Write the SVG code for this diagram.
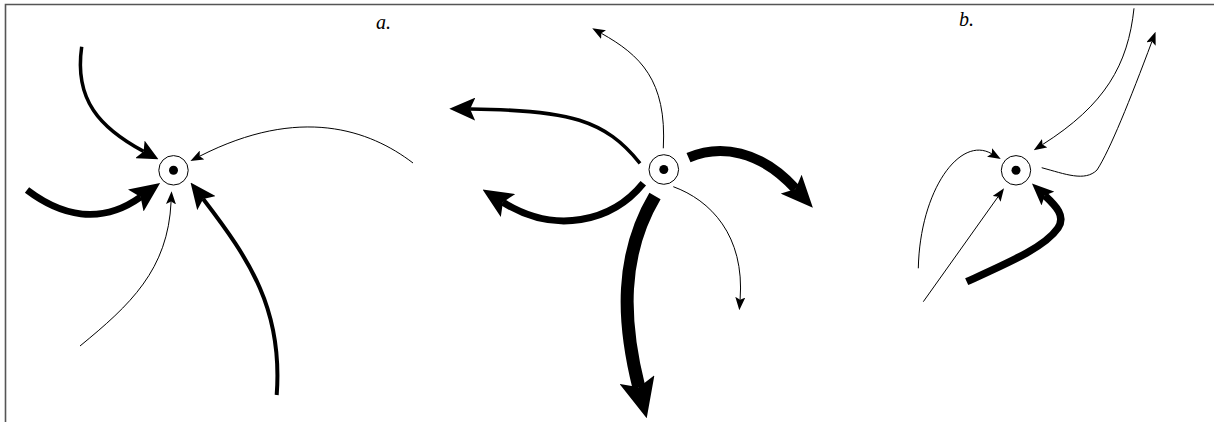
<svg xmlns="http://www.w3.org/2000/svg" width="1214" height="422" viewBox="0 0 1214 422">
<style>
.frame{stroke:#555;stroke-width:1.6;fill:none}
.ring{fill:#fff;stroke:#000;stroke-width:1}
.dot{fill:#000}
.c{fill:none;stroke:#000;stroke-linecap:butt}
.t1{stroke-width:1}
.lbl{font-family:"Liberation Serif","DejaVu Serif",serif;font-style:italic;font-size:20px;fill:#000}
</style>
<defs>
<marker id="hs" viewBox="0 0 10 10" preserveAspectRatio="none" markerUnits="userSpaceOnUse" markerWidth="13" markerHeight="10" refX="2" refY="5" orient="auto"><path d="M0,0 L10,5 L0,10 L2,5 z"/></marker>
<marker id="hm" viewBox="0 0 10 10" preserveAspectRatio="none" markerUnits="userSpaceOnUse" markerWidth="21" markerHeight="20" refX="2" refY="5" orient="auto"><path d="M0,0 L10,5 L0,10 L2,5 z"/></marker>
<marker id="ha4" viewBox="0 0 10 10" preserveAspectRatio="none" markerUnits="userSpaceOnUse" markerWidth="26" markerHeight="23" refX="2" refY="5" orient="auto"><path d="M0,0 L10,5 L0,10 L2,5 z"/></marker>
<marker id="hl" viewBox="0 0 10 10" preserveAspectRatio="none" markerUnits="userSpaceOnUse" markerWidth="30" markerHeight="27" refX="2" refY="5" orient="auto"><path d="M0,0 L10,5 L0,10 L2,5 z"/></marker>
<marker id="hm2" viewBox="0 0 10 10" preserveAspectRatio="none" markerUnits="userSpaceOnUse" markerWidth="26" markerHeight="23" refX="2" refY="5" orient="auto"><path d="M0,0 L10,5 L0,10 L2,5 z"/></marker>
<marker id="hm5" viewBox="0 0 10 10" preserveAspectRatio="none" markerUnits="userSpaceOnUse" markerWidth="32" markerHeight="28" refX="2" refY="5" orient="auto"><path d="M0,0 L10,5 L0,10 L2,5 z"/></marker>
<marker id="hxl" viewBox="0 0 10 10" preserveAspectRatio="none" markerUnits="userSpaceOnUse" markerWidth="40" markerHeight="36" refX="2" refY="5" orient="auto"><path d="M0,0 L10,5 L0,10 L2,5 z"/></marker>
<marker id="hb5" viewBox="0 0 10 10" preserveAspectRatio="none" markerUnits="userSpaceOnUse" markerWidth="22" markerHeight="19" refX="2" refY="5" orient="auto"><path d="M0,0 L10,5 L0,10 L2,5 z"/></marker>
</defs>
<rect width="1214" height="422" fill="#fff"/>
<path class="frame" d="M5.5,422 V4.5 H1214"/>
<text class="lbl" x="376" y="29">a.</text>
<text class="lbl" x="959" y="26">b.</text>
<g id="connectors">
<path class="c" stroke-width="3.5" marker-end="url(#hm)" d="M81.7,46.7 C74,100 100,128 143.6,151.4"/>
<path class="c" stroke-width="7" marker-end="url(#hl)" d="M27,190 C60,215 100,226 140.6,197"/>
<path class="c t1" marker-end="url(#hs)" d="M80,346 C130,305 168,270 171.1,201.6"/>
<path class="c" stroke-width="4" marker-end="url(#ha4)" d="M276.7,395 C283,310 250,260 203.2,199"/>
<path class="c t1" marker-end="url(#hs)" d="M413,163 C370,130 300,105 199.7,156.2"/>
<path class="c t1" marker-end="url(#hs)" d="M663.3,148.3 C667,80 640,55 601.3,33.3"/>
<path class="c" stroke-width="3.5" marker-end="url(#hm2)" d="M640,163.3 C605,120 570,110 470.1,109"/>
<path class="c" stroke-width="7" marker-end="url(#hl)" d="M643.3,183.3 C612,222 555,235 502.9,202.3"/>
<path class="c" stroke-width="13" marker-end="url(#hxl)" d="M655,196 C620,255 622,320 638.9,387.3"/>
<path class="c" stroke-width="10" marker-end="url(#hm5)" d="M688.5,157.7 C720,144 760,150 795.6,188.9"/>
<path class="c t1" marker-end="url(#hs)" d="M673.3,186.7 C710,200 745,235 740.1,299.8"/>
<path class="c t1" marker-end="url(#hs)" d="M1134,8.3 C1128,65 1105,105 1042.5,144.6"/>
<path class="c t1" marker-end="url(#hs)" d="M1041.7,167.7 C1065,174 1085,182 1097,170 C1110,150 1130,100 1151.9,41.6"/>
<path class="c t1" marker-end="url(#hs)" d="M918.3,268.3 C920,190 960,135 991.8,153.8"/>
<path class="c t1" marker-end="url(#hs)" d="M923.3,301.7 L998,196.8"/>
<path class="c" stroke-width="7.5" marker-end="url(#hb5)" d="M966.7,281.7 C1010,262 1045,247 1058,228 C1066,216 1056,206 1044.8,195.5"/>
</g>
<g id="node-a"><circle class="ring" cx="173.5" cy="170.3" r="14.7"/><circle class="dot" cx="173.5" cy="170.3" r="4.5"/></g>
<g id="node-mid"><circle class="ring" cx="663.8" cy="169.5" r="14.8"/><circle class="dot" cx="663.8" cy="169.5" r="4.5"/></g>
<g id="node-b"><circle class="ring" cx="1016" cy="170.3" r="14.7"/><circle class="dot" cx="1016" cy="170.3" r="4.5"/></g>
</svg>
